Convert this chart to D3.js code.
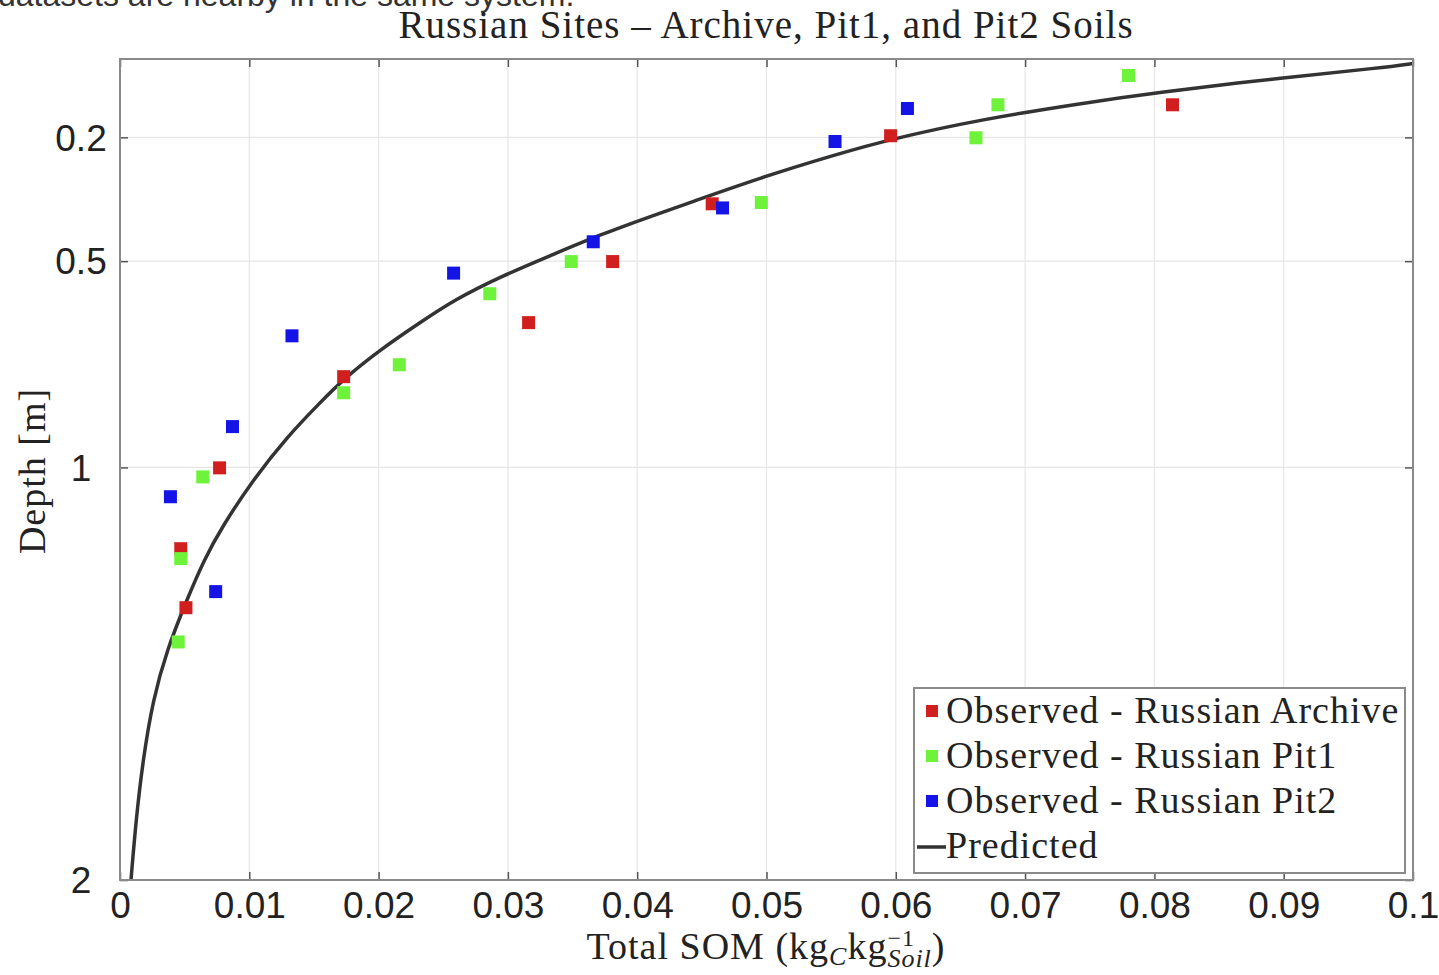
<!DOCTYPE html>
<html>
<head>
<meta charset="utf-8">
<script src="https://cdn.jsdelivr.net/npm/d3@7"></script>
<style>
  body { margin: 0; background: #fff; }
  svg { display: block; }
</style>
</head>
<body>
<div id="chart"></div>
<script>
// ---- data ----
const titleText = "Russian Sites \u2013 Archive, Pit1, and Pit2 Soils";
const topNote = "datasets are nearby in the same system.";

const somTicks = [0, 0.01, 0.02, 0.03, 0.04, 0.05, 0.06, 0.07, 0.08, 0.09, 0.1];
const somTickLabels = ["0", "0.01", "0.02", "0.03", "0.04", "0.05", "0.06", "0.07", "0.08", "0.09", "0.1"];
const depthTicks = [0.2, 0.5, 1, 2];
const depthTickLabels = ["0.2", "0.5", "1", "2"];

const seriesNames = ["Observed - Russian Archive", "Observed - Russian Pit1", "Observed - Russian Pit2"];
const seriesColors = ["#d11f1f", "#6ef23a", "#1414e6"];

const archiveSom   = [0.0814, 0.0596, 0.0458, 0.0381, 0.0316, 0.0173, 0.0077, 0.0047, 0.0051];
const archiveDepth = [0.121, 0.196, 0.361, 0.501, 0.649, 0.780, 1.001, 1.197, 1.340];

const pit1Som   = [0.0780, 0.0679, 0.0662, 0.0496, 0.0349, 0.0286, 0.0216, 0.0173, 0.0064, 0.0047, 0.0045];
const pit1Depth = [0.050, 0.121, 0.201, 0.358, 0.501, 0.579, 0.751, 0.819, 1.023, 1.221, 1.423];

const pit2Som   = [0.0609, 0.0553, 0.0466, 0.0366, 0.0258, 0.0133, 0.0087, 0.0039, 0.0074];
const pit2Depth = [0.130, 0.210, 0.371, 0.453, 0.529, 0.681, 0.901, 1.071, 1.301];

const predictedSom   = [0.00085, 0.00124, 0.00178, 0.00255, 0.00363, 0.00518, 0.00650, 0.00789, 0.01029, 0.01292,
                        0.01547, 0.01732, 0.02011, 0.02320, 0.02591, 0.02939, 0.03326, 0.03712, 0.04099, 0.04408,
                        0.04950, 0.05530, 0.05978, 0.06651, 0.07425, 0.08005, 0.08995, 0.09768, 0.1000];
const predictedDepth = [2.000, 1.854, 1.708, 1.563, 1.442, 1.320, 1.224, 1.144, 1.030, 0.926,
                        0.843, 0.785, 0.715, 0.649, 0.593, 0.538, 0.487, 0.436, 0.392, 0.358,
                        0.298, 0.242, 0.203, 0.157, 0.118, 0.092, 0.055, 0.031, 0.021];

const observed = [
  {name: seriesNames[0], color: seriesColors[0], som: archiveSom, depth: archiveDepth},
  {name: seriesNames[1], color: seriesColors[1], som: pit1Som, depth: pit1Depth},
  {name: seriesNames[2], color: seriesColors[2], som: pit2Som, depth: pit2Depth}
];

// ---- layout ----
const width = 1439, height = 975;
const plot = {left: 120, right: 1413, top: 59, bottom: 880};
const serif = "'Liberation Serif', 'DejaVu Serif', serif";
const sans = "'Liberation Sans', Arial, sans-serif";
const serifSpacing = "1px";   // widens Times a bit towards the LaTeX look
const markerSize = 13;

const svg = d3.select("#chart").append("svg")
  .attr("width", width)
  .attr("height", height);

const x = d3.scaleLinear().domain([0, 0.1]).range([plot.left, plot.right]);
const y = d3.scaleLinear().domain([0.01, 2]).range([plot.top, plot.bottom]);

// top note, cut by the crop of the original figure
svg.append("text")
  .attr("x", -2)
  .attr("y", 6)
  .attr("font-family", sans)
  .attr("font-size", 32)
  .attr("fill", "#333")
  .text(topNote);

// grid
const grid = svg.append("g").attr("stroke", "#e6e6e6").attr("stroke-width", 1.2);
grid.selectAll(".gx").data(somTicks.slice(1, -1)).join("line")
  .attr("x1", d => x(d)).attr("x2", d => x(d))
  .attr("y1", plot.top).attr("y2", plot.bottom);
grid.selectAll(".gy").data(depthTicks.slice(0, -1)).join("line")
  .attr("x1", plot.left).attr("x2", plot.right)
  .attr("y1", d => y(d)).attr("y2", d => y(d));

// predicted curve
svg.append("clipPath").attr("id", "plotClip")
  .append("rect")
  .attr("x", plot.left).attr("y", plot.top)
  .attr("width", plot.right - plot.left).attr("height", plot.bottom - plot.top);

const predicted = predictedSom.map((s, i) => ({som: s, depth: predictedDepth[i]}));
const line = d3.line()
  .x(d => x(d.som))
  .y(d => y(d.depth))
  .curve(d3.curveBasis);

svg.append("path")
  .attr("clip-path", "url(#plotClip)")
  .attr("fill", "none")
  .attr("stroke", "#333")
  .attr("stroke-width", 3.5)
  .attr("d", line(predicted));

// observed points
observed.forEach(s => {
  const pts = s.som.map((v, i) => ({som: v, depth: s.depth[i]}));
  svg.append("g").selectAll("rect").data(pts).join("rect")
    .attr("x", d => x(d.som) - markerSize / 2)
    .attr("y", d => y(d.depth) - markerSize / 2)
    .attr("width", markerSize)
    .attr("height", markerSize)
    .attr("fill", s.color);
});

// axes box and ticks
const xAxisB = d3.axisBottom(x).tickValues(somTicks).tickSize(-8).tickFormat((d, i) => somTickLabels[i]).tickPadding(12);
const xAxisT = d3.axisTop(x).tickValues(somTicks).tickSize(-8).tickFormat("");
const yAxisL = d3.axisLeft(y).tickValues(depthTicks).tickSize(-8).tickFormat("");
const yAxisR = d3.axisRight(y).tickValues(depthTicks).tickSize(-8).tickFormat("");

function styleAxis(g) {
  g.select(".domain").remove();
  g.selectAll(".tick line").attr("stroke", "#555").attr("stroke-width", 1.5);
}

svg.append("g").attr("transform", `translate(0,${plot.bottom})`).call(xAxisB).call(styleAxis)
  .selectAll("text")
  .attr("font-family", sans)
  .attr("font-size", 37)
  .attr("fill", "#222");
svg.append("g").attr("transform", `translate(0,${plot.top})`).call(xAxisT).call(styleAxis);
svg.append("g").attr("transform", `translate(${plot.left},0)`).call(yAxisL).call(styleAxis);
svg.append("g").attr("transform", `translate(${plot.right},0)`).call(yAxisR).call(styleAxis);

// y tick labels (centred in the left margin like the original)
svg.append("g").selectAll("text").data(depthTicks).join("text")
  .attr("x", 81)
  .attr("y", d => y(d))
  .attr("dy", "0.36em")
  .attr("text-anchor", "middle")
  .attr("font-family", sans)
  .attr("font-size", 37)
  .attr("fill", "#222")
  .text((d, i) => depthTickLabels[i]);

svg.append("rect")
  .attr("x", plot.left).attr("y", plot.top)
  .attr("width", plot.right - plot.left).attr("height", plot.bottom - plot.top)
  .attr("fill", "none")
  .attr("stroke", "#8a8a8a")
  .attr("stroke-width", 2);

// title
svg.append("text")
  .attr("x", 766)
  .attr("y", 38)
  .attr("text-anchor", "middle")
  .attr("font-family", serif)
  .attr("font-size", 39)
  .attr("letter-spacing", serifSpacing)
  .attr("fill", "#222")
  .text(titleText);

// y label
svg.append("text")
  .attr("transform", "translate(45,471) rotate(-90)")
  .attr("text-anchor", "middle")
  .attr("font-family", serif)
  .attr("font-size", 38)
  .attr("letter-spacing", serifSpacing)
  .attr("fill", "#222")
  .text("Depth [m]");

// x label with sub/superscripts
const xl = svg.append("text")
  .attr("x", 766)
  .attr("y", 959)
  .attr("text-anchor", "middle")
  .attr("font-family", serif)
  .attr("font-size", 38)
  .attr("letter-spacing", serifSpacing)
  .attr("fill", "#222");
xl.append("tspan").text("Total SOM (kg");
xl.append("tspan").attr("font-style", "italic").attr("font-size", 26).attr("dy", 6).text("C");
xl.append("tspan").attr("dy", -6).text("kg");
const sup = xl.append("tspan").attr("font-size", 24).attr("dy", -13).text("\u22121");
const supW = sup.node().getComputedTextLength();
xl.append("tspan").attr("font-style", "italic").attr("font-size", 26)
  .attr("dx", -supW).attr("dy", 21).text("Soil");
xl.append("tspan").attr("dy", -8).text(")");

// legend
const legend = svg.append("g");
legend.append("rect")
  .attr("x", 914).attr("y", 688)
  .attr("width", 491).attr("height", 185)
  .attr("fill", "#fff")
  .attr("stroke", "#8a8a8a")
  .attr("stroke-width", 2);

const legendRows = seriesNames.concat(["Predicted"]);
legendRows.forEach((name, i) => {
  const cy = 711 + i * 45;
  if (i < 3) {
    legend.append("rect")
      .attr("x", 932 - 6).attr("y", cy - 6)
      .attr("width", 12).attr("height", 12)
      .attr("fill", seriesColors[i]);
  } else {
    legend.append("line")
      .attr("x1", 917).attr("x2", 946)
      .attr("y1", cy + 1).attr("y2", cy + 1)
      .attr("stroke", "#333").attr("stroke-width", 3.5);
  }
  legend.append("text")
    .attr("x", 946)
    .attr("y", cy + 12)
    .attr("font-family", serif)
    .attr("font-size", 38)
    .attr("letter-spacing", serifSpacing)
    .attr("fill", "#222")
    .text(name);
});
</script>
</body>
</html>
